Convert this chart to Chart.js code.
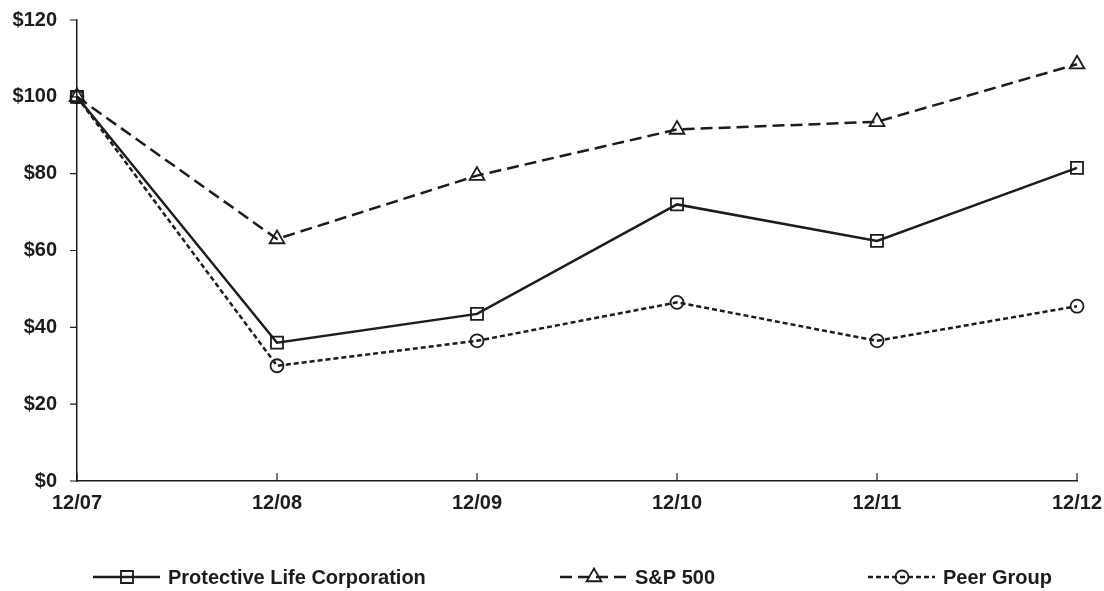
<!DOCTYPE html>
<html>
<head>
<meta charset="utf-8">
<script src="https://cdn.jsdelivr.net/npm/chart.js@4/dist/chart.umd.min.js"></script>
<style>
  body { margin: 0; background: #fff; }
</style>
</head>
<body>
<canvas id="chart" width="1104" height="591"></canvas>
<script>
const labels = ['12/07', '12/08', '12/09', '12/10', '12/11', '12/12'];
const protective = [100, 36, 43.5, 72, 62.5, 81.5];
const sp500 = [100, 63, 79.5, 91.5, 93.5, 108.5];
const peer = [100, 30, 36.5, 46.5, 36.5, 45.5];

const ink = '#1e1b1c';
const fontFamily = '"Liberation Sans", Arial, sans-serif';
const font = { family: fontFamily, size: 20, weight: 'bold' };

// where each legend entry starts (line start)
const legendX = [93, 560, 868];
const legendY = 577;

// legend: line sample with the marker in the middle, then the label
const customLegend = {
  id: 'customLegend',
  afterDraw(c) {
    const ctx = c.ctx;
    c.data.datasets.forEach((ds, i) => {
      const x = legendX[i];
      ctx.save();
      ctx.strokeStyle = ink;
      ctx.lineWidth = ds.borderWidth;
      ctx.setLineDash(ds.borderDash);
      ctx.beginPath();
      ctx.moveTo(x, legendY);
      ctx.lineTo(x + 67, legendY);
      ctx.stroke();
      ctx.setLineDash([]);
      ctx.fillStyle = 'rgba(0,0,0,0)';
      ctx.lineWidth = ds.pointBorderWidth;
      Chart.helpers.drawPoint(ctx, {
        pointStyle: ds.pointStyle,
        radius: ds.pointRadius,
        rotation: 0,
        borderWidth: ds.pointBorderWidth
      }, x + 34, legendY);
      ctx.fillStyle = ink;
      ctx.font = 'bold 20px ' + fontFamily;
      ctx.textBaseline = 'middle';
      ctx.fillText(ds.label, x + 75, legendY + 1);
      ctx.restore();
    });
  }
};

// x ticks point up into the plot, y ticks point left
const axisTicks = {
  id: 'axisTicks',
  afterDraw(c) {
    const ctx = c.ctx;
    const xs = c.scales.x, ys = c.scales.y;
    const area = c.chartArea;
    ctx.save();
    ctx.strokeStyle = ink;
    ctx.lineWidth = 1.2;
    ctx.beginPath();
    labels.forEach((l, i) => {
      const px = xs.getPixelForValue(i);
      ctx.moveTo(px, area.bottom);
      ctx.lineTo(px, area.bottom - 8);
    });
    ys.ticks.forEach(t => {
      const py = ys.getPixelForValue(t.value);
      ctx.moveTo(area.left, py);
      ctx.lineTo(area.left - 7, py);
    });
    ctx.stroke();
    ctx.restore();
  }
};

function series(label, data, dash, style, radius) {
  return {
    label,
    data,
    borderColor: ink,
    borderWidth: 2.5,
    borderDash: dash,
    pointStyle: style,
    pointRadius: radius,
    pointBorderWidth: 1.8,
    pointBorderColor: ink,
    pointBackgroundColor: 'rgba(0,0,0,0)',
    tension: 0
  };
}

new Chart(document.getElementById('chart'), {
  type: 'line',
  data: {
    labels,
    datasets: [
      series('Protective Life Corporation', protective, [], 'rect', 8.5),
      series('S&P 500', sp500, [12, 6], 'triangle', 8.5),
      series('Peer Group', peer, [5, 3], 'circle', 6.5)
    ]
  },
  options: {
    responsive: false,
    animation: false,
    layout: { padding: { top: 20, right: 27, left: 0, bottom: 0 } },
    plugins: {
      legend: { display: false },
      tooltip: { enabled: false }
    },
    scales: {
      x: {
        offset: false,
        grid: { display: false, drawTicks: false },
        border: { display: true, color: ink, width: 1.5 },
        ticks: { color: ink, font, padding: 10, maxRotation: 0 },
        afterFit(s) {
          s.height = 110;
          s.paddingLeft = 0;
          s.paddingRight = 0;
        }
      },
      y: {
        min: 0,
        max: 120,
        grid: { display: false, drawTicks: false },
        border: { display: true, color: ink, width: 1.5 },
        ticks: {
          stepSize: 20,
          color: ink,
          font,
          padding: 20,
          callback: v => '$' + v
        },
        afterFit(s) {
          s.width = 77;
          s.paddingTop = 0;
          s.paddingBottom = 0;
        }
      }
    }
  },
  plugins: [axisTicks, customLegend]
});
</script>
</body>
</html>
